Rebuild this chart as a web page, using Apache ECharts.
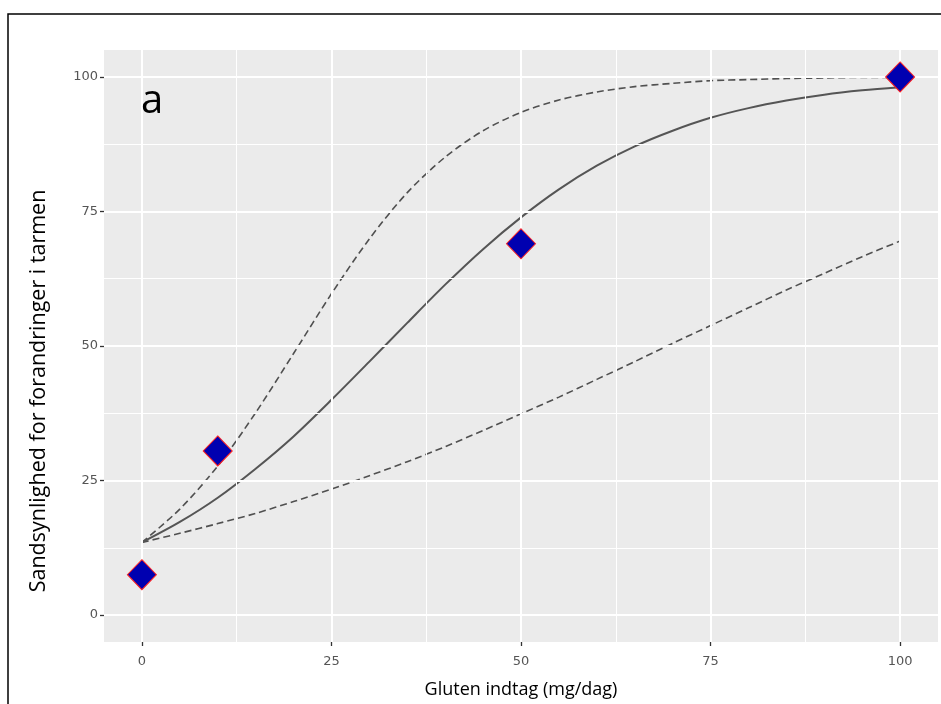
<!DOCTYPE html>
<html style="height: 100%">
   <head>
       <meta charset="utf-8">
   </head>
   <body style="height: 100%; margin: 0; background: #fff">
       <div id="container" style="width: 941px; height: 704px"></div>
       <script type="text/javascript" src="https://cdn.jsdelivr.net/npm/echarts@6/dist/echarts.min.js"></script>
       <script type="text/javascript">
var dom = document.getElementById("container");
var myChart = echarts.init(dom);

// gluten intake (mg/day) where the fitted curves are sampled
var doses = [0, 5, 10, 15, 20, 25, 30, 35, 40, 45, 50, 55, 60, 65, 70, 75, 80, 85, 90, 95, 100];
// fitted probability (%) and the lower / upper bands
var fitted = [13.5, 17.3, 21.8, 27.2, 33.2, 40.0, 47.1, 54.3, 61.4, 68.0, 73.9, 79.1, 83.5, 87.1, 90.0, 92.4, 94.2, 95.6, 96.7, 97.5, 98.1];
var upper = [13.5, 19.7, 27.7, 37.6, 48.6, 59.7, 69.9, 78.5, 85.1, 90.0, 93.4, 95.7, 97.2, 98.2, 98.8, 99.3, 99.5, 99.7, 99.8, 99.9, 99.9];
var lower = [13.5, 15.2, 17.0, 18.9, 21.1, 23.4, 25.9, 28.5, 31.3, 34.3, 37.4, 40.5, 43.8, 47.1, 50.5, 53.8, 57.1, 60.4, 63.5, 66.6, 69.5];
// observed groups
var obsDose = [0, 10, 50, 100];
var obsProb = [7.5, 30.5, 69, 100];
// tick labels and grid lines (same on both axes)
var ticks = [0, 25, 50, 75, 100];
var minorTicks = [12.5, 37.5, 62.5, 87.5];

function pairs(xs, ys) {
    return xs.map(function (x, i) { return [x, ys[i]]; });
}

function axis(margin) {
    return {
        type: 'value',
        min: -5,
        max: 105,
        axisLine: { show: false, onZero: false },
        axisTick: {
            show: true, length: 4, customValues: ticks,
            lineStyle: { color: '#333', width: 1.3 }
        },
        axisLabel: {
            color: '#555', fontSize: 13, fontFamily: 'DejaVu Sans',
            margin: margin, customValues: ticks
        },
        splitLine: { show: false }
    };
}

var gridLines = [];
ticks.forEach(function (v) {
    gridLines.push({ xAxis: v, lineStyle: { color: '#fff', width: 2, type: 'solid' } });
    gridLines.push({ yAxis: v, lineStyle: { color: '#fff', width: 2, type: 'solid' } });
});
minorTicks.forEach(function (v) {
    gridLines.push({ xAxis: v, lineStyle: { color: '#fff', width: 1, type: 'solid' } });
    gridLines.push({ yAxis: v, lineStyle: { color: '#fff', width: 1, type: 'solid' } });
});

var xAxis = axis(13);
xAxis.name = 'Gluten indtag (mg/dag)';
xAxis.nameLocation = 'middle';
xAxis.nameGap = 39;
xAxis.nameTextStyle = { color: '#000', fontSize: 18, fontFamily: 'Open Sans' };

var option = {
    animation: false,
    backgroundColor: '#ffffff',
    grid: {
        left: 104, right: 3, top: 50, bottom: 60,
        show: true, backgroundColor: '#ebebeb', borderWidth: 0
    },
    xAxis: xAxis,
    yAxis: axis(6),
    graphic: [
        {
            type: 'rect', silent: true,
            shape: { x: 8, y: 14, width: 1000, height: 800 },
            style: { fill: 'none', stroke: '#000', lineWidth: 1.5 },
            z: 100
        },
        {
            type: 'text', left: 141, top: 82,
            style: { text: 'a', fill: '#000', fontSize: 40, fontFamily: 'Open Sans' },
            z: 100
        },
        {
            type: 'text', x: 39, y: 391, rotation: Math.PI / 2,
            style: {
                text: 'Sandsynlighed for forandringer i tarmen', fill: '#000',
                fontSize: 21.5, fontFamily: 'Open Sans', align: 'center', verticalAlign: 'middle'
            },
            z: 100
        }
    ],
    series: [
        {
            type: 'line', data: [], z: 1, silent: true,
            markLine: {
                silent: true, symbol: ['none', 'none'], label: { show: false },
                emphasis: { disabled: true }, animation: false,
                data: gridLines
            }
        },
        {
            type: 'line', data: pairs(doses, upper), showSymbol: false, smooth: 0.3, z: 3,
            lineStyle: { color: '#505050', width: 1.6, type: [7, 4] }
        },
        {
            type: 'line', data: pairs(doses, lower), showSymbol: false, smooth: 0.3, z: 3,
            lineStyle: { color: '#505050', width: 1.6, type: [7, 4] }
        },
        {
            type: 'line', data: pairs(doses, fitted), showSymbol: false, smooth: 0.3, z: 3,
            lineStyle: { color: '#555', width: 2 }
        },
        {
            type: 'scatter', data: pairs(obsDose, obsProb), symbol: 'diamond', symbolSize: [29, 30],
            itemStyle: { color: '#0000b0', opacity: 1, borderColor: '#ff2020', borderWidth: 1 },
            z: 5
        }
    ]
};

myChart.setOption(option, true);
       </script>
   </body>
</html>
